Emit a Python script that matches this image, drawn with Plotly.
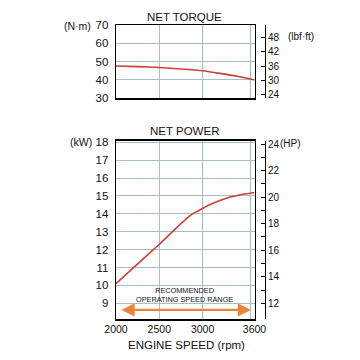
import plotly.graph_objects as go

# ---- data ----
rpm_torque = [2000, 2250, 2500, 2750, 3000, 3200, 3400, 3600]
torque_nm = [47.6, 47.3, 46.8, 46.0, 45.0, 43.6, 42.0, 40.0]

rpm_power = [2000, 2250, 2500, 2750, 2875, 3000, 3100, 3200, 3300, 3400, 3500, 3600]
power_kw = [10.1, 11.2, 12.3, 13.45, 13.97, 14.3, 14.55, 14.75, 14.92, 15.03, 15.12, 15.18]

x_ticks = [2000, 2500, 3000, 3600]
torque_ticks = [30, 40, 50, 60, 70]
lbf_ticks = [24, 30, 36, 42, 48]
kw_ticks = [9, 10, 11, 12, 13, 14, 15, 16, 17, 18]
hp_ticks = [12, 14, 16, 18, 20, 22, 24]
hp_minor = [13, 15, 17, 19, 21, 23]
range_rpm = [2045, 3560]
range_level = 8.63

W = H = 360
RED = "#cf3f3a"
GRID = "#a7bccf"
ORANGE = "#e9863a"
FONT = "Liberation Sans, Arial, sans-serif"

x0, x1 = 116 / W, 254.5 / W
top_dom = [1 - 98.3 / H, 1 - 25 / H]
bot_dom = [1 - 319.3 / H, 1 - 140.7 / H]
axis_pos = 265 / W

fig = go.Figure()
fig.add_trace(go.Scatter(x=rpm_torque, y=torque_nm, mode="lines", xaxis="x", yaxis="y",
                         line=dict(color=RED, width=1.6, shape="spline", smoothing=0.6),
                         hoverinfo="skip", showlegend=False))
fig.add_trace(go.Scatter(x=[2000], y=[30], mode="lines", xaxis="x", yaxis="y2",
                         line=dict(width=0), hoverinfo="skip", showlegend=False))
fig.add_trace(go.Scatter(x=rpm_power, y=power_kw, mode="lines", xaxis="x2", yaxis="y3",
                         line=dict(color=RED, width=1.6, shape="spline", smoothing=0.6),
                         hoverinfo="skip", showlegend=False))
fig.add_trace(go.Scatter(x=[2000], y=[12], mode="lines", xaxis="x2", yaxis="y4",
                         line=dict(width=0), hoverinfo="skip", showlegend=False))

common_x = dict(range=[2000, 3600], tickvals=x_ticks, showgrid=True, gridcolor=GRID, gridwidth=1,
                minor=dict(tickvals=[3550], showgrid=True, gridcolor=GRID, ticks=""),
                showline=True, linecolor="black", linewidth=1.3, mirror=True, zeroline=False,
                ticks="", fixedrange=True, automargin=False)

fig.update_layout(
    width=W, height=H, margin=dict(l=0, r=0, t=0, b=0),
    paper_bgcolor="white", plot_bgcolor="white",
    font=dict(family=FONT, color="#111"),
    showlegend=False,
    xaxis=dict(domain=[x0, x1], anchor="y", showticklabels=False, **common_x),
    xaxis2=dict(domain=[x0, x1], anchor="y3", showticklabels=True,
                tickfont=dict(size=10.5, color="#111"), **common_x),
    yaxis=dict(domain=top_dom, anchor="x", range=[30, 70], tickvals=torque_ticks,
               showgrid=True, gridcolor=GRID, showline=True, linecolor="black", linewidth=1.3,
               mirror=True, zeroline=False, ticks="", ticklabelstandoff=4, automargin=False,
               fixedrange=True, tickfont=dict(size=11.5, color="#111")),
    yaxis2=dict(overlaying="y", side="right", anchor="free", position=axis_pos,
                range=[22.63, 52.97], tickvals=lbf_ticks, ticks="inside", ticklen=4,
                tickcolor="black", showline=True, linecolor="black", linewidth=1,
                showgrid=False, zeroline=False, automargin=False, fixedrange=True,
                tickfont=dict(size=10, color="#111")),
    yaxis3=dict(domain=bot_dom, anchor="x2", range=[8.106, 18.09], tickvals=kw_ticks,
                showgrid=True, gridcolor=GRID, showline=True, linecolor="black", linewidth=1.3,
                mirror=True, zeroline=False, ticks="", ticklabelstandoff=4, automargin=False,
                fixedrange=True, tickfont=dict(size=11.5, color="#111")),
    yaxis4=dict(overlaying="y3", side="right", anchor="free", position=axis_pos,
                range=[10.795, 24.25], tickvals=hp_ticks, ticks="inside", ticklen=4,
                tickcolor="black", showline=True, linecolor="black", linewidth=1,
                minor=dict(tickvals=hp_minor, ticks="inside", ticklen=4, tickcolor="black"),
                showgrid=False, zeroline=False, automargin=False, fixedrange=True,
                tickfont=dict(size=10, color="#111")),
)

ann = []
def txt(x, y, s, size, xanchor="center"):
    ann.append(dict(x=x / W, y=1 - y / H, xref="paper", yref="paper", text=s, showarrow=False,
                    xanchor=xanchor, yanchor="middle", font=dict(size=size, family=FONT, color="#111")))

txt(184, 17, "NET TORQUE", 11.5)
txt(184, 131, "NET POWER", 11.5)
txt(186, 345, "ENGINE SPEED (rpm)", 11.5)
txt(93, 26, "(N·m)", 10.5, "right")
txt(286, 37, "(lbf·ft)", 10, "left")
txt(94, 142.5, "(kW)", 10.5, "right")
txt(278, 143.5, "(HP)", 10, "left")
txt(185, 295, "RECOMMENDED<br>OPERATING SPEED RANGE", 7.3)

ann.append(dict(x=range_rpm[1], y=range_level, ax=range_rpm[0], ay=range_level,
                xref="x2", yref="y3", axref="x2", ayref="y3", text="",
                showarrow=True, arrowside="end+start", arrowhead=2, arrowsize=1.2,
                arrowwidth=2.2, arrowcolor=ORANGE))
fig.update_layout(annotations=ann)

fig.write_html("out.html", config={"displayModeBar": False, "staticPlot": True},
               post_script="document.body.style.margin='0';document.body.style.padding='0';"
                           "document.body.style.overflow='hidden';")
